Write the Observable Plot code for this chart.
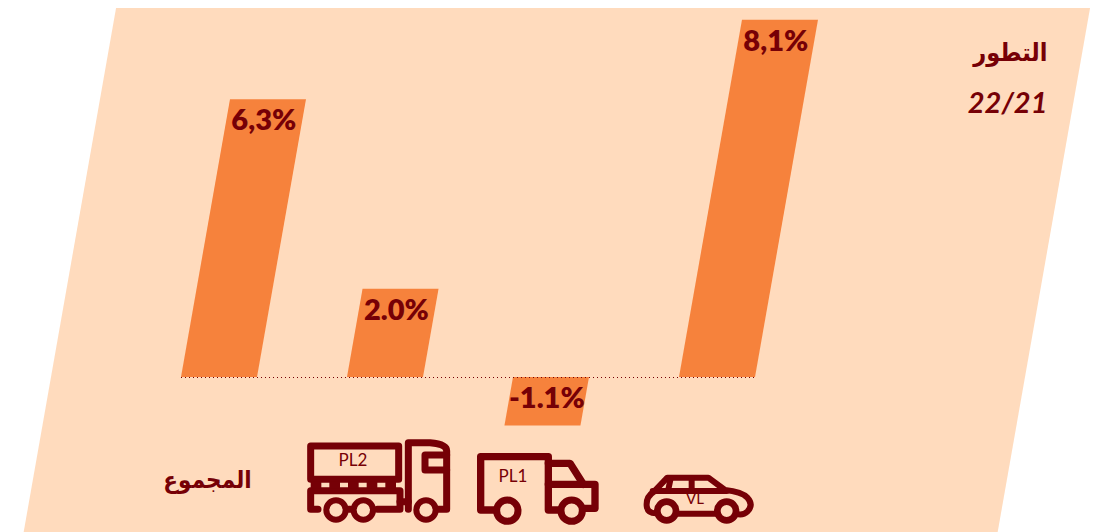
<!DOCTYPE html>
<html>
<head>
<meta charset="utf-8">
<script src="https://cdn.jsdelivr.net/npm/d3@7"></script>
<script src="https://cdn.jsdelivr.net/npm/@observablehq/plot@0.6"></script>
<style>
html,body{margin:0;padding:0;background:#fff;overflow:hidden}
svg{display:block}
</style>
</head>
<body>
<div id="chart"></div>
<script>
const categories = ["المجموع", "PL2", "PL1", "VL"];
const values = [6.3, 2.0, -1.1, 8.1];
const valueLabels = ["6,3%", "2.0%", "-1.1%", "8,1%"];
const titleLine1 = "التطور";
const titleLine2 = "22/21";

const bg = "#FFDBBD", barColor = "#F6823C", ink = "#760006";
const skewTan = Math.tan(10 * Math.PI / 180);
const W = 1096, H = 532, baseY = 377;
const latin = "Lato, 'DejaVu Sans', sans-serif";
const arabic = "'DejaVu Sans Condensed', 'DejaVu Sans', sans-serif";
const band = 166, padIn = 0.54;

const rows = categories.map((c, i) => ({cat: c, value: values[i], label: valueLabels[i]}));

// shear a mark around the zero baseline
const sheared = (index, scales, vals, dims, ctx, next) => {
  const g = next(index, scales, vals, dims, ctx);
  g.setAttribute("transform", `translate(${baseY * skewTan} 0) skewX(-10)`);
  return g;
};
// keep glyphs upright, but let their anchor follow the shear
const followShear = (dy) => (index, scales, vals, dims, ctx, next) => {
  const g = next(index, scales, vals, dims, ctx);
  g.querySelectorAll("text").forEach((t, j) => {
    const i = index[j];
    const top = scales.y(values[i]);
    const anchorY = values[i] >= 0 ? top + dy : baseY + dy;
    const x = scales.x(categories[i]) - 1;
    t.setAttribute("transform", `translate(${x + (baseY - anchorY) * skewTan} ${anchorY})`);
  });
  return g;
};

// pictograms, drawn in a 3× local grid placed relative to each category's band
const icons = [
  {cat: "PL2", dx: -57, y: 430, sw: 21, paths: [
    "M62,48 H326 V148 H62 Z",
    "M84,238 H62 V182 H330 V238 H262",
    "M176,238 H182",
    "M330,215 H355",
    "M355,238 V38 H420 Q470,42 470,62 V238 H442",
    "M470,75 H405 V120 H470"
  ], dashed: {d: "M62,166 H326", dash: "32 24"}, wheels: [[138,240,29,18],[220,240,29,18],[408,240,29,18]]},
  {cat: "PL1", dx: -48, y: 445, sw: 22, paths: [
    "M95,195 H47 V35 H250 V195 H285",
    "M250,55 H315 L355,118",
    "M250,118 H390 V190 H358"
  ], wheels: [[127,197,32,21],[320,197,32,21]]},
  {cat: "VL", dx: -49, y: 465, sw: 18, paths: [
    "M78,145 Q52,145 50,122 Q48,95 72,80 L112,38 H235 L285,75 Q335,80 352,98 Q372,120 352,140 Q342,150 325,148",
    "M140,146 H258",
    "M68,78 H290",
    "M122,40 L114,78",
    "M185,40 V78"
  ], wheels: [[110,138,28,20],[290,138,28,20]]}
];
const iconMark = (index, scales) => {
  const svgNS = "http://www.w3.org/2000/svg";
  const root = document.createElementNS(svgNS, "g");
  const mk = (parent, tag, attrs) => {
    const e = document.createElementNS(svgNS, tag);
    Object.entries(attrs).forEach(([k, v]) => e.setAttribute(k, v));
    parent.appendChild(e);
    return e;
  };
  icons.forEach(ic => {
    const g = mk(root, "g", {
      transform: `translate(${scales.x(ic.cat) + ic.dx} ${ic.y}) scale(${1/3})`,
      fill: "none", stroke: ink, "stroke-width": ic.sw,
      "stroke-linecap": "round", "stroke-linejoin": "round"
    });
    ic.paths.forEach(d => mk(g, "path", {d}));
    if (ic.dashed) mk(g, "path", {d: ic.dashed.d, "stroke-dasharray": ic.dashed.dash, "stroke-linecap": "butt"});
    ic.wheels.forEach(([cx, cy, r, w]) => mk(g, "circle", {cx, cy, r, "stroke-width": w, fill: bg}));
  });
  return root;
};

const unit = 44.1;
const iconLabels = [
  {cat: "PL2", dx: -32.5, py: 460, size: 17},
  {cat: "PL1", dx: -38.5, py: 476, size: 17},
  {cat: "VL", dx: -22.5, py: 499, size: 15}
];

const chart = Plot.plot({
  width: W, height: H,
  marginTop: 8, marginBottom: 0, marginLeft: 51, marginRight: 71,
  style: {background: "#fff", fontFamily: latin},
  x: {type: "band", domain: categories, range: [219.5 - band / 2, 717.5 + band / 2], paddingInner: padIn, paddingOuter: padIn / 2, align: 0.5, axis: null},
  y: {domain: [-(H - baseY) / unit, (baseY - 8) / unit], range: [H, 8], axis: null},
  marks: [
    Plot.frame({fill: bg, stroke: null, render: sheared}),
    Plot.barY(rows, {x: "cat", y: "value", fill: barColor, render: sheared}),
    Plot.ruleY([0], {stroke: ink, strokeWidth: 1, strokeDasharray: "1 3", insetLeft: 130, insetRight: 269}),
    Plot.text(rows, {x: "cat", y: "value", text: "label", fill: ink, fontSize: 29, fontWeight: 800, fontFamily: latin, textAnchor: "middle", render: followShear(21)}),
    iconMark,
    ...iconLabels.map(l => Plot.text([l], {x: "cat", y: () => (baseY - l.py) / unit, text: "cat", fill: ink, fontSize: l.size, fontFamily: latin, dx: l.dx})),
    Plot.text([categories[0]], {x: d => d, y: () => (baseY - 480) / unit, dx: -12, fill: ink, fontSize: 24, fontWeight: 700, fontFamily: arabic}),
    Plot.text([titleLine1], {frameAnchor: "top-right", dx: 22, dy: 35, fill: ink, fontSize: 25, fontWeight: 700, fontFamily: arabic}),
    Plot.text([titleLine2], {frameAnchor: "top-right", dx: 22, dy: 84, fill: ink, fontSize: 29, fontStyle: "italic", fontWeight: 700, fontFamily: latin})
  ]
});
document.getElementById("chart").appendChild(chart);
</script>
</body>
</html>
